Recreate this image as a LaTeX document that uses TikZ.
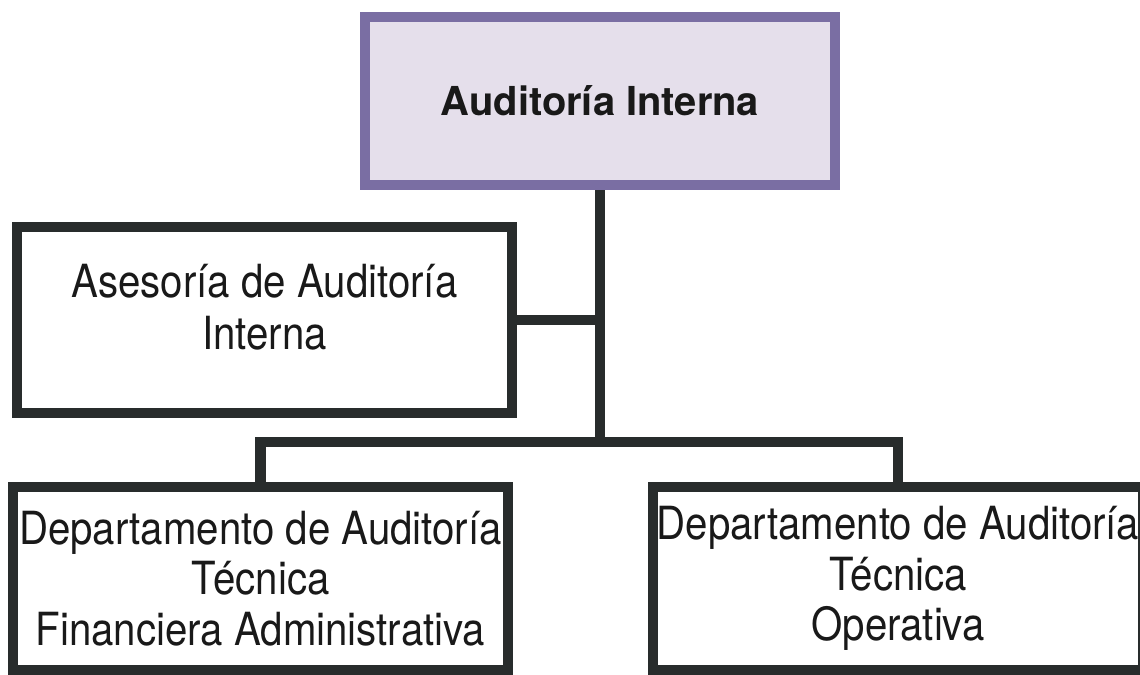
\documentclass[tikz,border=0pt]{standalone}
\usepackage{fontspec}
\setmainfont{TeX Gyre Heros}
\newfontfamily\narrowfont[FakeStretch=0.88]{TeX Gyre Heros}
\usetikzlibrary{backgrounds}
\definecolor{linecol}{RGB}{40,44,44}
\definecolor{topborder}{RGB}{122,110,163}
\definecolor{topfill}{RGB}{229,223,235}
\tikzset{
  unitbox/.style={draw=linecol, line width=5.7pt, fill=white, rectangle, inner sep=0pt, align=center, text=black!90,
    font=\narrowfont\fontsize{26pt}{28.8pt}\selectfont},
  headbox/.style={unitbox, draw=topborder, fill=topfill, font=\bfseries\fontsize{22.7pt}{28.5pt}\selectfont},
  link/.style={draw=linecol, line width=5.7pt, line join=miter}
}
\begin{document}
\begin{tikzpicture}[x=0.02cm, y=-0.02cm]
\useasboundingbox (0,0) rectangle (1140,675);
\node[headbox, minimum width=9.4cm, minimum height=3.36cm] (top) at (600,101) {Auditoría Interna};
\node[unitbox, minimum width=9.9cm, minimum height=3.72cm, font=\narrowfont\fontsize{26pt}{30pt}\selectfont, text depth=15pt] (ases) at (264.5,320) {Asesoría de Auditoría\\Interna};
\node[unitbox, minimum width=9.9cm, minimum height=3.66cm] (depA) at (260.5,578.5) {Departamento de Auditoría\\Técnica\\Financiera Administrativa};
\node[unitbox, minimum width=9.8cm, minimum height=3.66cm] (depB) at (898,578.5) {Departamento de Auditoría\\Técnica\\Operativa};
\coordinate (j2) at (600,442);
\begin{scope}[on background layer]
\draw[link] (top.south) -- (j2);
\draw[link] (ases.east) -- (ases.east -| top.south);
\draw[link] (depA.north) |- (j2) -| (depB.north);
\end{scope}
\end{tikzpicture}
\end{document}
